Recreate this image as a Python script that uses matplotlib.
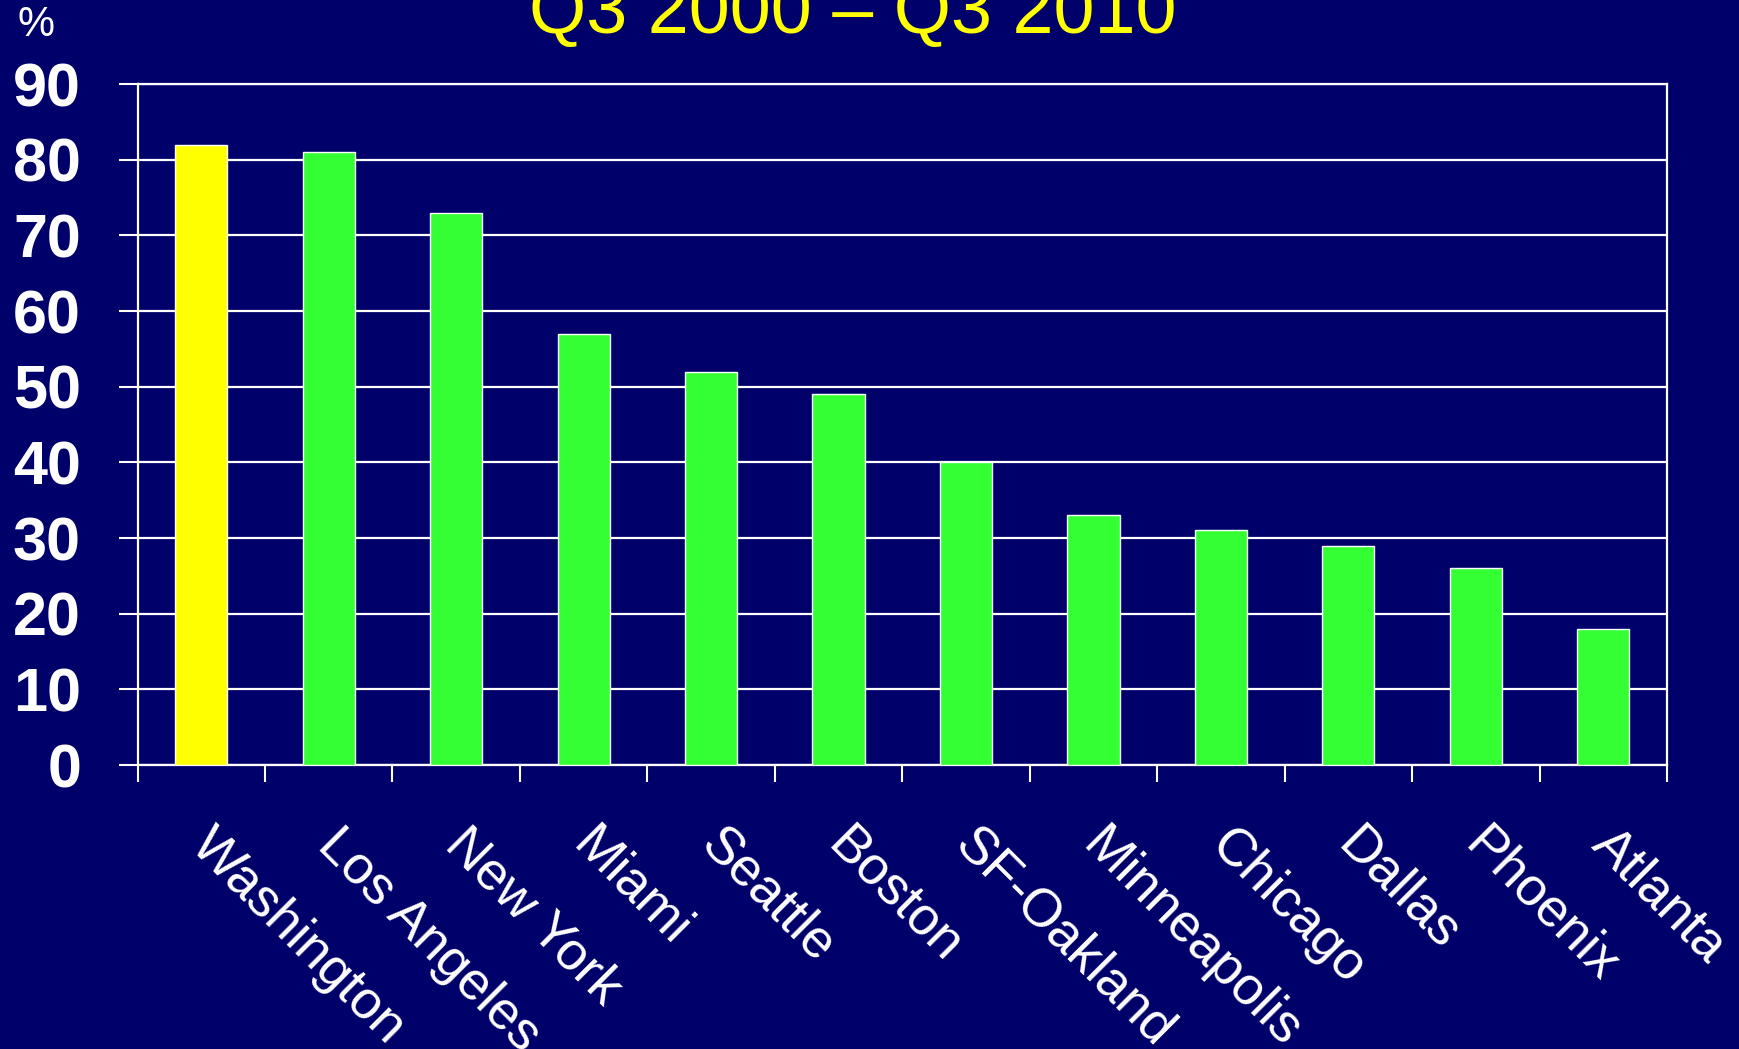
import numpy as np
import matplotlib.pyplot as plt
import matplotlib.transforms as mtransforms

plt.rcParams['font.family'] = ['Liberation Sans', 'DejaVu Sans']

# data
cities = ['Washington', 'Los Angeles', 'New York', 'Miami', 'Seattle', 'Boston',
          'SF-Oakland', 'Minneapolis', 'Chicago', 'Dallas', 'Phoenix', 'Atlanta']
growth = [82, 81, 73, 57, 52, 49, 40, 33, 31, 29, 26, 18]
yticks = [0, 10, 20, 30, 40, 50, 60, 70, 80, 90]
title = 'Q3 2000 \u2013 Q3 2010'

bg = '#00006A'
green = '#33FF33'
yellow = '#FFFF00'

fig = plt.figure(figsize=(17.39, 10.49), dpi=100, facecolor=bg)
ax = fig.add_axes([0.0791, 0.2707, 0.9586 - 0.0791, 0.9199 - 0.2707])
ax.set_facecolor(bg)

x = np.arange(len(cities))
colors = [yellow] + [green] * (len(cities) - 1)
ax.set_axisbelow(True)
ax.bar(x, growth, width=0.41, color=colors, edgecolor='white', linewidth=1.0, zorder=3)

ax.set_xlim(-0.5, len(cities) - 0.5)
ax.set_ylim(0, 90)
ax.set_yticks(yticks)
ax.set_yticklabels([str(v) for v in yticks], fontsize=44, fontweight='bold', color='white')
ax.tick_params(axis='y', length=13.7, width=1.5, color='white', pad=27)
ax.grid(axis='y', color='white', linewidth=1.6)

# category labels at centres, tick marks at the boundaries
ax.set_xticks(x)
ax.set_xticklabels(cities, fontsize=38.5, color='white', rotation=-45,
                   ha='left', va='top', rotation_mode='anchor')
ax.tick_params(axis='x', which='major', length=0, pad=39)
shift = mtransforms.ScaledTranslation(0.15, 0, fig.dpi_scale_trans)
for lab in ax.get_xticklabels():
    lab.set_transform(lab.get_transform() + shift)
ax.set_xticks(np.arange(len(cities) + 1) - 0.5, minor=True)
ax.tick_params(axis='x', which='minor', length=12.5, width=1.5, color='white')

for s in ax.spines.values():
    s.set_color('white')
    s.set_linewidth(1.6)

fig.text(0.4905, 1 - 33 / 1049, title, ha='center', va='baseline',
         fontsize=53, color=yellow)
fig.text(36 / 1739, 1 - 25 / 1049, '%', ha='center', va='center',
         fontsize=30, color='white')

fig.savefig('out.png', dpi=100, facecolor=bg)
